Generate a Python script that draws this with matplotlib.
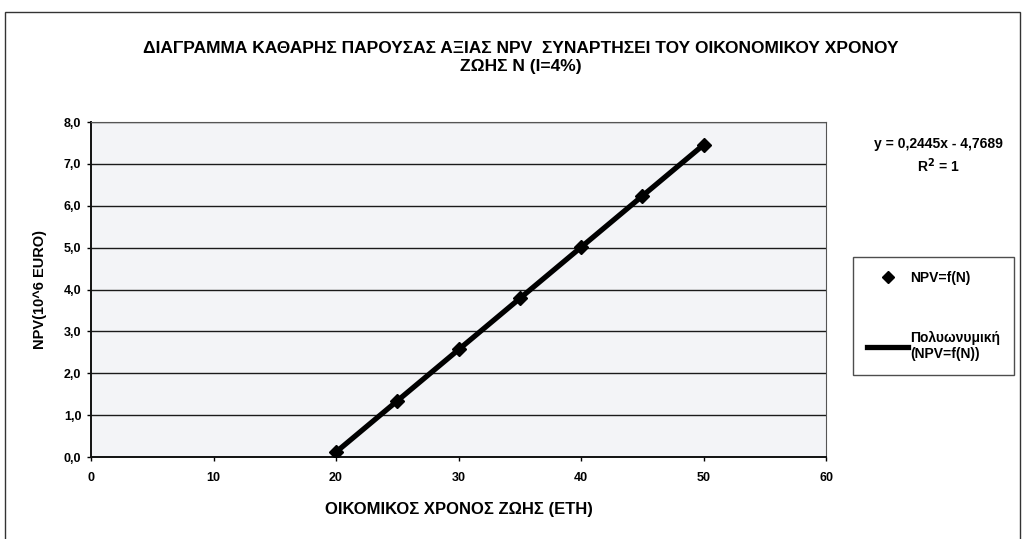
import matplotlib.pyplot as plt
import numpy as np
from matplotlib.lines import Line2D
from matplotlib.patches import Rectangle
from matplotlib.ticker import FuncFormatter, MultipleLocator

plt.rcParams.update({
    "font.family": ["Liberation Sans", "DejaVu Sans"],
    "font.weight": "bold",
})

# Data
life_years = [20, 25, 30, 35, 40, 45, 50]
npv = [0.12, 1.34, 2.57, 3.79, 5.01, 6.23, 7.46]

title = ("ΔΙΑΓΡΑΜΜΑ ΚΑΘΑΡΗΣ ΠΑΡΟΥΣΑΣ ΑΞΙΑΣ NPV  ΣΥΝΑΡΤΗΣΕΙ ΤΟΥ ΟΙΚΟΝΟΜΙΚΟΥ ΧΡΟΝΟΥ\n"
         "ΖΩΗΣ Ν (Ι=4%)")
xlabel = "ΟΙΚΟΜΙΚΟΣ ΧΡΟΝΟΣ ΖΩΗΣ (ΕΤΗ)"
ylabel = "NPV(10^6 EURO)"
eq_text = "y = 0,2445x - 4,7689\nR$^2$ = 1"

fig = plt.figure(figsize=(10.23, 5.39), dpi=100)
fig.patch.set_facecolor("white")

# outer chart-area border
fig.patches.append(Rectangle((0.005, -0.05), 0.992, 1.028, transform=fig.transFigure,
                             fill=False, edgecolor="#333333", linewidth=1.0))

ax = fig.add_axes([0.089, 0.152, 0.7185, 0.6215])
ax.set_facecolor("#f3f4f7")

# fitted trendline (linear fit of the points)
coef = np.polyfit(life_years, npv, 1)
x_fit = np.array([min(life_years), max(life_years)])
ax.plot(x_fit, np.polyval(coef, x_fit), color="black", linewidth=3.8,
        solid_capstyle="round", zorder=3)
ax.plot(life_years, npv, linestyle="none", marker="D", markersize=7.5,
        color="black", zorder=4)

ax.set_xlim(0, 60)
ax.set_ylim(0, 8)
ax.xaxis.set_major_locator(MultipleLocator(10))
ax.yaxis.set_major_locator(MultipleLocator(1))
ax.yaxis.set_major_formatter(FuncFormatter(lambda v, p: f"{v:.1f}".replace(".", ",")))
ax.grid(axis="y", color="#1a1a1a", linewidth=1.0)
ax.set_axisbelow(True)
ax.tick_params(labelsize=9, length=3, width=1, direction="out", pad=4)
ax.tick_params(axis="x", pad=8)
for lbl in ax.get_xticklabels() + ax.get_yticklabels():
    lbl.set_fontweight("bold")

for side in ("left", "bottom"):
    ax.spines[side].set_linewidth(1.4)
    ax.spines[side].set_color("#111111")
for side in ("top", "right"):
    ax.spines[side].set_linewidth(0.8)
    ax.spines[side].set_color("#555555")

ax.set_xlabel(xlabel, fontsize=12, fontweight="bold")
ax.xaxis.set_label_coords(0.5, -0.135)
ax.set_ylabel(ylabel, fontsize=10.5, fontweight="bold")
ax.yaxis.set_label_coords(-0.06, 0.5)

fig.text(0.509, 0.893, title, ha="center", va="center", fontsize=12.5,
         fontweight="bold", linespacing=1.25)
fig.text(0.917, 0.71, eq_text, ha="center", va="center", fontsize=10,
         fontweight="bold", linespacing=1.35)

handles = [
    Line2D([], [], linestyle="none", marker="D", markersize=6.5, color="black"),
    Line2D([], [], color="black", linewidth=3.8),
]
leg = fig.legend(handles, ["NPV=f(N)", "Πολυωνυμική\n(NPV=f(N))"],
                 loc="upper left", bbox_to_anchor=(0.831, 0.528),
                 frameon=True, fancybox=False, edgecolor="#222222",
                 fontsize=10, handlelength=3.0, handletextpad=0.1,
                 labelspacing=3.3, borderpad=1.0, borderaxespad=0.2)
leg.get_frame().set_linewidth(1.0)

fig.savefig("out.png", dpi=100, facecolor="white")
